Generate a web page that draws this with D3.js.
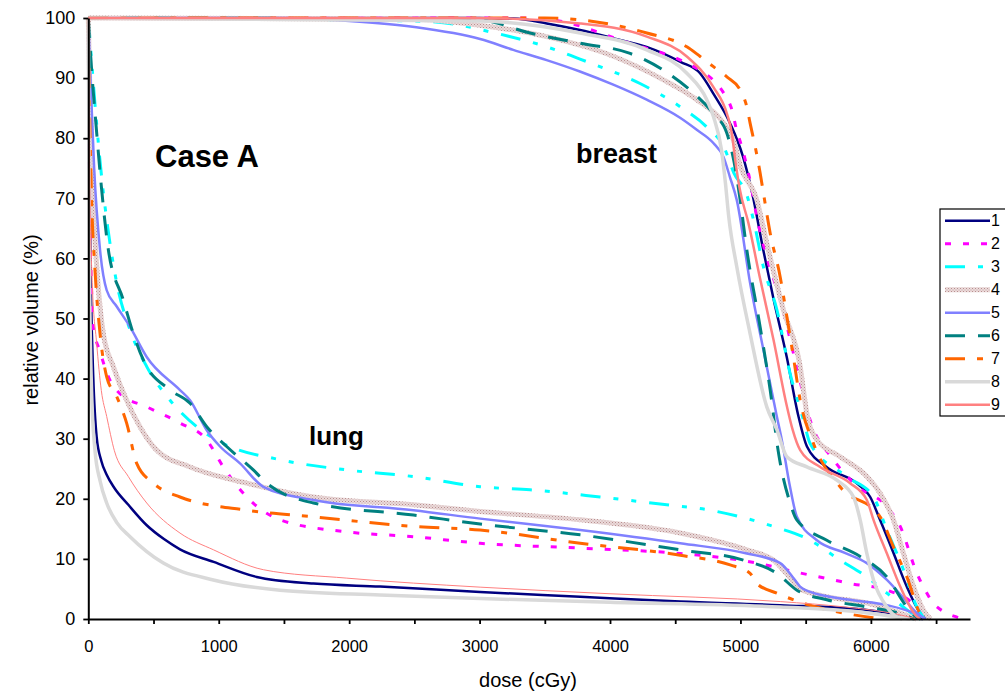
<!DOCTYPE html>
<html>
<head>
<meta charset="utf-8">
<script src="https://cdn.jsdelivr.net/npm/d3@7"></script>
<style>
  body { margin: 0; background: #fff; }
  svg { display: block; font-family: "Liberation Sans", Arial, sans-serif; }
</style>
</head>
<body>
<svg id="chart"></svg>
<script>
// plan labels shown in the legend
const planNames = ["1", "2", "3", "4", "5", "6", "7", "8", "9"];

// breast DVH curves: [dose cGy, relative volume %]
const breast1 = [[0,100],[3000,100],[3260,99.9],[3515,99.1],[3770,98.0],[4030,96.6],[4280,95.2],[4540,92.7],[4690,90.8],[4790,87.5],[4920,82.5],[5020,76.9],[5090,70.9],[5175,61.4],[5255,53.1],[5355,43.6],[5445,33.7],[5510,28.7],[5660,25.3],[5890,22.6],[5995,20.3],[6070,16.5],[6175,10.9],[6275,5.4],[6380,0.9],[6420,0]];
const breast2 = [[0,100],[3300,100],[3550,99.7],[4150,95.8],[4540,93.0],[4690,91.3],[4790,89.7],[4880,87.2],[4935,84.7],[4970,81.4],[5010,78.6],[5075,72.8],[5130,66.4],[5200,60.3],[5305,53.1],[5420,43],[5534,33.1],[5713,26.5],[5900,22],[6123,18.7],[6225,15.4],[6353,7.6],[6416,4.8],[6480,2.6],[6560,1.2],[6660,0.3],[6700,0]];
const breast3 = [[0,100],[2500,99.5],[2800,99],[3080,97.7],[3515,95.2],[3850,92.5],[4230,89.1],[4540,85.2],[4740,81.9],[4880,78.2],[4950,74.2],[5050,70.5],[5100,66.4],[5176,58.6],[5280,51.4],[5380,40.9],[5483,33.1],[5534,29.2],[5816,23.7],[6020,20.3],[6123,14.8],[6250,8.2],[6353,2.0],[6420,0]];
const breast4 = [[0,100],[2500,99.8],[3000,98.8],[3515,96.9],[4030,93.6],[4410,89.7],[4665,86.4],[4860,82.8],[4946,79.7],[5000,75.3],[5126,69.7],[5202,62.5],[5330,51.4],[5458,42.0],[5509,34.2],[5586,29.8],[5764,27.0],[5969,23.7],[6071,20.9],[6173,16.5],[6250,10.9],[6327,5.4],[6430,0.6],[6460,0]];
const breast5 = [[0,100],[1500,100],[2000,99.5],[2500,98.5],[3004,96.5],[3258,94.7],[3514,93.0],[3769,91.1],[4025,88.9],[4281,86.4],[4537,83.4],[4665,81.4],[4792,79.2],[4869,76.9],[4920,73.5],[4972,69.7],[5074,55.9],[5176,44.8],[5279,33.7],[5317,29.8],[5380,22],[5433,17.0],[5586,13.1],[5800,11],[5969,9.3],[6123,6.5],[6250,3.5],[6353,1.0],[6420,0]];
const breast6 = [[0,100],[2800,99.8],[3000,99.7],[3387,97.5],[3771,95.8],[4154,94.1],[4410,91.3],[4614,88.0],[4793,84.1],[4896,80.8],[4960,75],[4998,69.7],[5049,61.4],[5151,48.6],[5228,38.1],[5292,27.6],[5381,19.3],[5432,16.5],[5662,13.1],[5918,10.4],[6123,7.0],[6276,2.0],[6350,0.3],[6380,0]];
const breast7 = [[0,100],[3500,100],[3771,99.7],[4282,97.5],[4589,95.2],[4691,93.6],[4793,91.9],[4896,90.2],[4998,88.0],[5049,85.2],[5074,82.5],[5113,78.6],[5151,74.2],[5176,70.9],[5228,64.2],[5304,57.0],[5356,50.3],[5406,43.6],[5458,36.4],[5560,29.2],[5764,22.0],[6071,17.0],[6173,12.0],[6276,7.0],[6378,0.9],[6420,0]];
const breast8 = [[0,100],[3000,99.5],[3771,97.5],[4282,94.7],[4589,90.8],[4742,86.4],[4793,83.6],[4855,78],[4885,72.5],[4910,67],[4972,58.6],[5074,47.5],[5202,35.3],[5279,31.5],[5356,27.0],[5509,25.3],[5739,23.1],[5867,20.3],[5918,16.5],[5969,10.9],[6020,6.5],[6123,2.0],[6200,0.3],[6240,0]];
const breast9 = [[0,100],[3000,100],[3771,99.1],[4282,96.9],[4589,93.6],[4793,88.5],[4896,84.1],[4934,80.8],[4960,76.4],[4995,71.5],[5060,66],[5151,56.6],[5253,46.5],[5356,35.4],[5400,31.5],[5458,28.1],[5611,25.3],[5841,22.6],[5969,19.8],[6020,16.5],[6123,10.9],[6225,5.4],[6353,0.4],[6380,0]];

// lung DVH curves: [dose cGy, relative volume %]
const lung1 = [[0,100],[8,75],[20,55],[38,40.3],[64,30.3],[100,26.3],[141,24.0],[200,21.8],[307,19.0],[448,15.6],[580,13.3],[703,11.6],[961,9.5],[1291,7.0],[1726,5.9],[2237,5.4],[3004,4.5],[3771,3.7],[4538,2.9],[5305,2.3],[5969,1.5],[6225,0.7],[6353,0.1],[6400,0]];
const lung2 = [[0,100],[10,70],[25,55],[38,48.6],[90,44.5],[150,40.5],[243,37.5],[448,35.3],[703,32.6],[908,29.8],[1035,25.3],[1215,20.3],[1470,16.5],[1982,14.5],[2493,13.7],[3004,12.6],[3771,11.8],[4538,10.9],[4896,10.1],[5150,9.2],[5406,7.9],[5713,6.5],[5841,5.9],[6123,4.8],[6300,3.0],[6400,0.8],[6450,0]];
const lung3 = [[0,100],[25,93],[50,86],[100,74],[150,65],[218,55.9],[320,48.1],[448,42.0],[627,36.4],[831,32.0],[1035,29.2],[1470,26.5],[1982,24.8],[2493,23.7],[3004,22.0],[3387,21.5],[3924,20.3],[4435,19.0],[4768,18.1],[4998,17.0],[5253,15.4],[5534,13.1],[5764,9.8],[5969,7.0],[6123,4.3],[6248,2.0],[6353,0.4],[6400,0]];
const lung4 = [[0,100],[15,85],[40,68],[70,57],[115,47.5],[192,42.0],[294,36.4],[396,32.0],[524,28.1],[780,25.3],[1215,22.6],[1726,20.3],[2493,19.0],[3004,17.9],[3771,16.5],[4538,14.3],[5049,11.5],[5253,9.8],[5355,7.5],[5458,5.0],[5600,4.0],[6000,2.5],[6350,0]];
const lung5 = [[0,100],[20,88],[45,75],[90,61.4],[141,54.7],[218,52.0],[320,48.6],[448,43.6],[703,38.1],[780,36.4],[908,31.4],[1010,28.7],[1163,25.9],[1342,22.0],[1726,19.8],[2493,18.1],[3004,16.7],[3771,14.8],[4538,12.6],[5049,10.9],[5305,9.3],[5400,7],[5457,5.4],[5534,4.5],[5841,3.2],[6125,2.3],[6328,1.0],[6420,0]];
const lung6 = [[0,100],[30,90],[60,82],[100,72],[154,61.4],[268,53.1],[345,47.5],[422,43.1],[627,38.1],[780,35.9],[908,32.0],[1061,28.7],[1265,24.8],[1368,22.6],[1726,19.3],[2493,17.3],[3004,15.8],[3771,14.0],[4538,11.5],[5023,9.8],[5279,7.6],[5433,4.8],[5662,3.2],[5969,2.0],[6225,0.9],[6330,0]];
const lung7 = [[0,100],[10,85],[25,70],[51,58.1],[90,47.5],[141,40.3],[218,37.0],[294,32.6],[371,25.9],[499,22.6],[703,20.3],[1215,18.1],[1726,17.0],[2493,15.4],[3004,14.8],[3771,12.6],[4538,10.6],[4921,9.0],[5074,7.6],[5126,5.9],[5279,4.3],[5500,2.5],[5790,1.0],[6017,0.2],[6100,0]];
const lung8 = [[0,100],[8,60],[25,38],[51,28.1],[90,23],[141,19.3],[220,16],[320,13.7],[575,9.3],[959,6.5],[1470,4.8],[2237,4.0],[3004,3.4],[4000,2.8],[5305,2.0],[5900,1.2],[6300,0]];
const lung9 = [[0,100],[10,75],[30,56],[64,45.9],[100,38],[141,33.7],[200,28],[307,23.7],[448,19.3],[703,14.3],[961,11.5],[1342,8.2],[1982,6.8],[3004,5.3],[4000,4.2],[5305,2.9],[5800,2.0],[6200,0.8],[6353,0]];

const breastSeries = [breast1, breast2, breast3, breast4, breast5, breast6, breast7, breast8, breast9];
const lungSeries = [lung1, lung2, lung3, lung4, lung5, lung6, lung7, lung8, lung9];

const yTicks = [0, 10, 20, 30, 40, 50, 60, 70, 80, 90, 100];
const xTicks = [0, 500, 1000, 1500, 2000, 2500, 3000, 3500, 4000, 4500, 5000, 5500, 6000, 6500];

// line look per plan
const styles = [
  { color: "#000080", width: 2.5, dash: null },
  { color: "#ff00ff", width: 3, dash: "6,12" },
  { color: "#00ffff", width: 3, dash: "20,13,5,13,5,13" },
  { color: "url(#tex4)", width: 5, dash: null },
  { color: "#8080ff", width: 2.5, dash: null },
  { color: "#008080", width: 3, dash: "20,13" },
  { color: "#ff6600", width: 3, dash: "20,12,6,12" },
  { color: "#d9d9d9", width: 3.5, dash: null },
  { color: "#ff8080", width: 2.5, dash: null }
];

const svg = d3.select("#chart").attr("width", 1005).attr("height", 696);

// texture for plan 4
const pat = svg.append("defs").append("pattern")
  .attr("id", "tex4").attr("width", 3).attr("height", 3)
  .attr("patternUnits", "userSpaceOnUse");
pat.append("rect").attr("width", 3).attr("height", 3).attr("fill", "#eadada");
pat.append("rect").attr("width", 1).attr("height", 1).attr("fill", "#b98f8f");
pat.append("rect").attr("x", 1.5).attr("y", 1.5).attr("width", 1).attr("height", 1).attr("fill", "#c9a5a5");

const x = d3.scaleLinear().domain([0, 6760]).range([88.3, 970]);
const y = d3.scaleLinear().domain([0, 100]).range([619, 18]);

const line = d3.line()
  .x(d => x(d[0]))
  .y(d => y(d[1]))
  .curve(d3.curveMonotoneX);

// lung curves
lungSeries.forEach((s, i) => {
  const st = styles[i];
  svg.append("path").datum(s)
    .attr("fill", "none")
    .attr("stroke", st.color)
    .attr("stroke-width", i === 8 ? 1 : st.width)
    .attr("stroke-dasharray", st.dash)
    .attr("d", line);
});

// breast curves
breastSeries.forEach((s, i) => {
  const st = styles[i];
  svg.append("path").datum(s)
    .attr("fill", "none")
    .attr("stroke", st.color)
    .attr("stroke-width", st.width)
    .attr("stroke-dasharray", st.dash)
    .attr("d", line);
});

// axes
const xAxis = svg.append("g")
  .attr("transform", "translate(0,619)")
  .call(d3.axisBottom(x).tickValues(xTicks).tickSize(5).tickSizeOuter(0).tickPadding(16)
    .tickFormat(d => d % 1000 === 0 ? d : ""));
const yAxis = svg.append("g")
  .attr("transform", "translate(88.3,0)")
  .call(d3.axisLeft(y).tickValues(yTicks).tickSize(5).tickSizeOuter(0).tickPadding(8));

[xAxis, yAxis].forEach(g => {
  g.select(".domain").attr("stroke", "#000").attr("stroke-width", 2);
  g.selectAll(".tick line").attr("stroke", "#000").attr("stroke-width", 1.8);
  g.selectAll(".tick text").attr("fill", "#000")
    .style("font-family", "'Liberation Sans', Arial, sans-serif");
});
xAxis.selectAll(".tick text").style("font-size", "16.5px");
yAxis.selectAll(".tick text").style("font-size", "18px");

// axis titles
svg.append("text")
  .attr("x", 528).attr("y", 687)
  .attr("text-anchor", "middle")
  .style("font-size", "20px")
  .text("dose (cGy)");
svg.append("text")
  .attr("transform", "translate(38,320) rotate(-90)")
  .attr("text-anchor", "middle")
  .style("font-size", "20px")
  .text("relative volume (%)");

// annotations
svg.append("text").attr("x", 155).attr("y", 167)
  .style("font-size", "31px").style("font-weight", "bold").text("Case A");
svg.append("text").attr("x", 576).attr("y", 163)
  .style("font-size", "27px").style("font-weight", "bold").text("breast");
svg.append("text").attr("x", 309).attr("y", 445)
  .style("font-size", "26px").style("font-weight", "bold").text("lung");

// legend
const lg = svg.append("g");
lg.append("rect")
  .attr("x", 940).attr("y", 209).attr("width", 80).attr("height", 207)
  .attr("fill", "#fff").attr("stroke", "#000").attr("stroke-width", 1.2);
planNames.forEach((name, i) => {
  const st = styles[i];
  const yy = 220.7 + i * 23;
  lg.append("line")
    .attr("x1", 945).attr("x2", 990).attr("y1", yy).attr("y2", yy)
    .attr("stroke", st.color)
    .attr("stroke-width", st.width)
    .attr("stroke-dasharray", st.dash);
  lg.append("text")
    .attr("x", 991).attr("y", yy).attr("dy", "0.36em")
    .style("font-size", "16px")
    .text(name);
});
</script>
</body>
</html>
